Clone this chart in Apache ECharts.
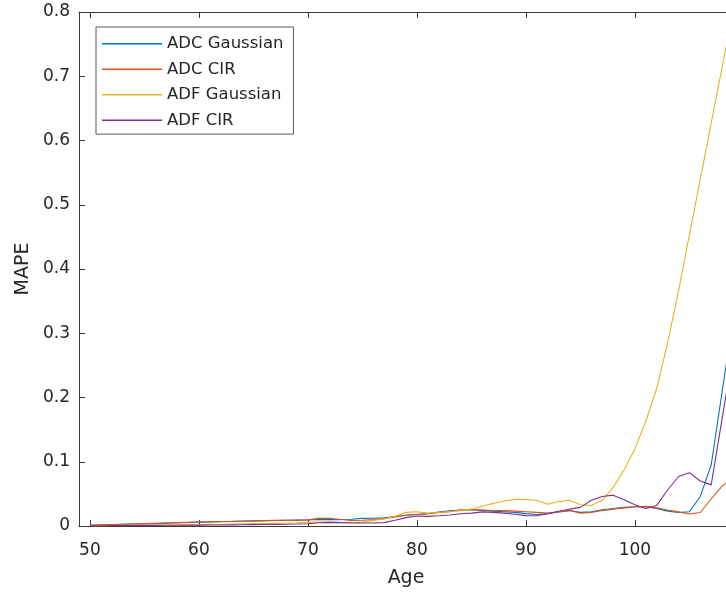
<!DOCTYPE html>
<html>
<head>
<meta charset="utf-8">
<script src="https://cdn.jsdelivr.net/npm/echarts@6/dist/echarts.min.js"></script>
<style>
  html, body { margin: 0; padding: 0; background: #ffffff; overflow: hidden; }
  #chart { width: 726px; height: 594px; }
</style>
</head>
<body>
<div id="chart"></div>
<script>
// Ages (years)
const ages = [
  50, 51, 52, 53, 54, 55, 56, 57, 58, 59,
  60, 61, 62, 63, 64, 65, 66, 67, 68, 69,
  70, 71, 72, 73, 74, 75, 76, 77, 78, 79,
  80, 81, 82, 83, 84, 85, 86, 87, 88, 89,
  90, 91, 92, 93, 94, 95, 96, 97, 98, 99,
  100, 101, 102, 103, 104, 105, 106, 107, 108, 109
];

// MAPE per age for each model
const adcGaussian = [
  0.0010, 0.0015, 0.0020, 0.0025, 0.0030, 0.0035, 0.0040, 0.0045, 0.0050, 0.0055,
  0.0060, 0.0064, 0.0068, 0.0071, 0.0075, 0.0079, 0.0083, 0.0086, 0.0089, 0.0092,
  0.0095, 0.0100, 0.0102, 0.0100, 0.0105, 0.0118, 0.0121, 0.0128, 0.0148, 0.0168,
  0.0180, 0.0192, 0.0218, 0.0238, 0.0250, 0.0252, 0.0243, 0.0232, 0.0222, 0.0212,
  0.0192, 0.0180, 0.0192, 0.0218, 0.0240, 0.0212, 0.0222, 0.0252, 0.0272, 0.0290,
  0.0300, 0.0302, 0.0272, 0.0232, 0.0210, 0.0222, 0.0460, 0.0950, 0.2090, 0.3200
];
const adcCir = [
  0.0012, 0.0017, 0.0022, 0.0027, 0.0032, 0.0037, 0.0042, 0.0047, 0.0052, 0.0057,
  0.0062, 0.0066, 0.0070, 0.0073, 0.0077, 0.0080, 0.0084, 0.0087, 0.0090, 0.0092,
  0.0096, 0.0118, 0.0120, 0.0102, 0.0086, 0.0090, 0.0100, 0.0115, 0.0140, 0.0168,
  0.0180, 0.0190, 0.0210, 0.0222, 0.0248, 0.0258, 0.0250, 0.0242, 0.0240, 0.0232,
  0.0222, 0.0212, 0.0202, 0.0220, 0.0240, 0.0200, 0.0212, 0.0240, 0.0262, 0.0282,
  0.0300, 0.0305, 0.0282, 0.0250, 0.0220, 0.0188, 0.0210, 0.0420, 0.0620, 0.0750
];
const adfGaussian = [
  0.0005, 0.0006, 0.0008, 0.0009, 0.0010, 0.0012, 0.0014, 0.0016, 0.0018, 0.0020,
  0.0022, 0.0025, 0.0028, 0.0031, 0.0034, 0.0037, 0.0040, 0.0043, 0.0046, 0.0050,
  0.0056, 0.0060, 0.0062, 0.0055, 0.0050, 0.0060, 0.0088, 0.0110, 0.0152, 0.0212,
  0.0222, 0.0200, 0.0208, 0.0222, 0.0240, 0.0262, 0.0310, 0.0350, 0.0390, 0.0415,
  0.0412, 0.0398, 0.0340, 0.0380, 0.0400, 0.0330, 0.0318, 0.0400, 0.0600, 0.0870,
  0.1200, 0.1630, 0.2140, 0.2850, 0.3660, 0.4530, 0.5400, 0.6270, 0.7140, 0.8000
];
const adfCir = [
  0.0004, 0.0005, 0.0006, 0.0007, 0.0008, 0.0009, 0.0010, 0.0011, 0.0012, 0.0013,
  0.0014, 0.0015, 0.0016, 0.0018, 0.0020, 0.0022, 0.0024, 0.0026, 0.0028, 0.0030,
  0.0035, 0.0050, 0.0057, 0.0052, 0.0047, 0.0046, 0.0047, 0.0052, 0.0090, 0.0130,
  0.0156, 0.0150, 0.0160, 0.0172, 0.0190, 0.0200, 0.0220, 0.0212, 0.0200, 0.0182,
  0.0162, 0.0160, 0.0190, 0.0230, 0.0262, 0.0290, 0.0400, 0.0460, 0.0480, 0.0410,
  0.0330, 0.0272, 0.0320, 0.0560, 0.0770, 0.0830, 0.0700, 0.0640, 0.1670, 0.2700
];

const seriesNames = ['ADC Gaussian', 'ADC CIR', 'ADF Gaussian', 'ADF CIR'];
const seriesColors = ['#0072BD', '#D95319', '#EDB120', '#7E2F8E'];
const seriesValues = [adcGaussian, adcCir, adfGaussian, adfCir];

// Tick labels
const xTicks = [50, 60, 70, 80, 90, 100];
const xMin = 49, xMax = 109;
const yMin = 0, yMax = 0.8, yStep = 0.1;

const FONT = 'DejaVu Sans';
const AXIS_COLOR = '#3a3a3a';

const chart = echarts.init(document.getElementById('chart'), null, { renderer: 'canvas' });

const axisLineStyle = { show: true, onZero: false, lineStyle: { color: AXIS_COLOR, width: 1 } };
const tickStyle = { show: true, inside: true, length: 6, lineStyle: { color: AXIS_COLOR, width: 1 } };

chart.setOption({
  animation: false,
  backgroundColor: '#ffffff',
  textStyle: { fontFamily: FONT },
  // the axes box runs a little past the right edge of the canvas
  grid: { left: 79, top: 12, width: 654, height: 514, containLabel: false, outerBoundsMode: 'none' },
  legend: {
    left: 96,
    top: 27,
    orient: 'vertical',
    icon: 'rect',
    itemWidth: 60,
    itemHeight: 1.4,
    itemGap: 8.5,
    padding: [8.3, 10, 5.3, 6],
    borderColor: '#5a5a5a',
    borderWidth: 1,
    backgroundColor: '#ffffff',
    textStyle: { fontFamily: FONT, fontSize: 16.5, color: '#262626', lineHeight: 16 },
    data: seriesNames
  },
  xAxis: [
    {
      type: 'value',
      min: xMin,
      max: xMax,
      position: 'bottom',
      name: 'Age',
      nameLocation: 'middle',
      nameGap: 43,
      nameTextStyle: { fontFamily: FONT, fontSize: 19, color: '#262626' },
      axisLine: axisLineStyle,
      axisTick: Object.assign({ customValues: xTicks }, tickStyle),
      axisLabel: { customValues: xTicks, margin: 16, fontFamily: FONT, fontSize: 17, color: '#262626' },
      splitLine: { show: false }
    },
    {
      type: 'value',
      min: xMin,
      max: xMax,
      position: 'top',
      axisLine: axisLineStyle,
      axisTick: Object.assign({ customValues: xTicks }, tickStyle),
      axisLabel: { show: false },
      splitLine: { show: false }
    }
  ],
  yAxis: [
    {
      type: 'value',
      min: yMin,
      max: yMax,
      interval: yStep,
      position: 'left',
      name: 'MAPE',
      nameLocation: 'middle',
      nameGap: 42,
      nameRotate: 90,
      nameTextStyle: { fontFamily: FONT, fontSize: 19, color: '#262626' },
      axisLine: axisLineStyle,
      axisTick: tickStyle,
      axisLabel: {
        margin: 9,
        fontFamily: FONT,
        fontSize: 17,
        color: '#262626',
        formatter: v => (v === 0 ? '0' : v.toFixed(1))
      },
      splitLine: { show: false }
    },
    {
      type: 'value',
      min: yMin,
      max: yMax,
      interval: yStep,
      position: 'right',
      axisLine: axisLineStyle,
      axisTick: tickStyle,
      axisLabel: { show: false },
      splitLine: { show: false }
    }
  ],
  series: seriesNames.map((name, i) => ({
    name: name,
    type: 'line',
    xAxisIndex: 0,
    yAxisIndex: 0,
    symbol: 'none',
    clip: true,
    color: seriesColors[i],
    itemStyle: { color: seriesColors[i] },
    lineStyle: { color: seriesColors[i], width: 1.1 },
    data: ages.map((a, k) => [a, seriesValues[i][k]])
  }))
});
</script>
</body>
</html>
